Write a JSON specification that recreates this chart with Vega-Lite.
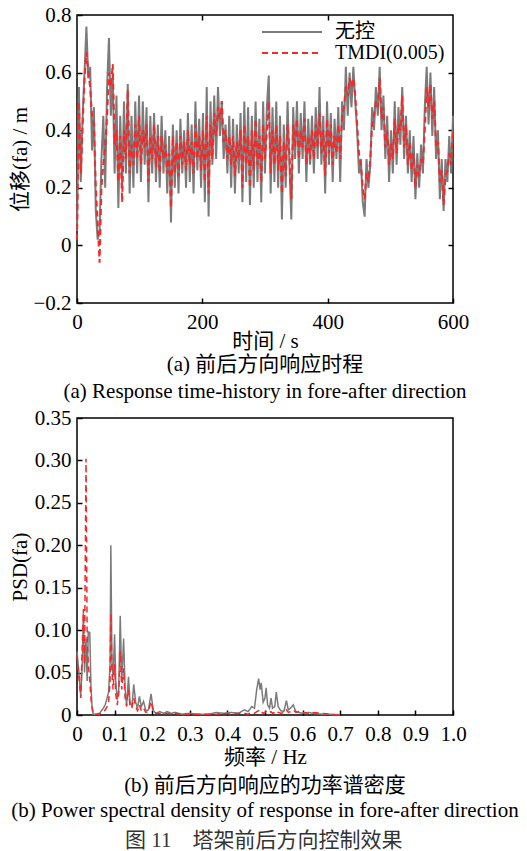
{
  "$schema": "https://vega.github.io/schema/vega-lite/v6.json",
  "background": "white",
  "padding": {"left": 8, "top": 3, "right": 10, "bottom": 0},
  "spacing": 3,
  "config": {
    "font": "Liberation Serif, Noto Sans CJK SC",
    "view": {"stroke": "black", "strokeWidth": 1.5},
    "style": {"guide-label": {"font": "Liberation Serif, Noto Sans CJK SC"}, "guide-title": {"font": "Liberation Serif, Noto Sans CJK SC"}},
    "axis": {"domain": false, "grid": false, "tickColor": "black", "tickWidth": 1.5, "tickSize": -5, "labelFontSize": 21, "labelColor": "black", "labelOverlap": false, "labelFlush": false, "labelFont": "Liberation Serif, Noto Sans CJK SC", "titleFontSize": 21, "titleFontWeight": "normal", "titleColor": "black", "titleFont": "Liberation Serif, Noto Sans CJK SC"},
    "axisY": {"minExtent": 44, "maxExtent": 44, "titlePadding": 3, "labelPadding": 11},
    "axisX": {"titlePadding": -2, "labelPadding": 13, "labelFlush": false},
    "legend": {"titleFontSize": 0, "labelFont": "Liberation Serif, Noto Sans CJK SC"}
  },
  "title": {"text": "图 11　塔架前后方向控制效果", "orient": "bottom", "anchor": "middle", "fontSize": 21, "fontWeight": "normal", "color": "#333333", "offset": 8, "font": "Liberation Serif, Noto Sans CJK SC"},
  "datasets": {
    "th": [
      {"t":0,"u":0.05,"c":0.02},{"t":3,"u":0.55,"c":0.50},{"t":6,"u":0.22,"c":0.25},{"t":9,"u":0.45,"c":0.42},{"t":12,"u":0.60,"c":0.58},{"t":15,"u":0.76,"c":0.67},{"t":18,"u":0.58,"c":0.60},{"t":21,"u":0.62,"c":0.55},{"t":24,"u":0.33,"c":0.45},{"t":27,"u":0.48,"c":0.42},
      {"t":30,"u":0.12,"c":0.20},{"t":33,"u":0.02,"c":0.08},{"t":36,"u":0.05,"c":-0.06},{"t":39,"u":0.30,"c":0.20},{"t":42,"u":0.45,"c":0.28},{"t":45,"u":0.20,"c":0.35},{"t":48,"u":0.55,"c":0.45},{"t":51,"u":0.72,"c":0.60},{"t":54,"u":0.45,"c":0.55},{"t":57,"u":0.60,"c":0.63},
      {"t":60,"u":0.25,"c":0.35},{"t":63,"u":0.52,"c":0.40},{"t":66,"u":0.13,"c":0.22},{"t":69,"u":0.45,"c":0.38},{"t":72,"u":0.20,"c":0.15},{"t":75,"u":0.50,"c":0.40},{"t":78,"u":0.25,"c":0.30},{"t":81,"u":0.56,"c":0.54},{"t":84,"u":0.18,"c":0.25},{"t":87,"u":0.45,"c":0.35},
      {"t":90,"u":0.20,"c":0.28},{"t":93,"u":0.50,"c":0.42},{"t":96,"u":0.25,"c":0.30},{"t":99,"u":0.52,"c":0.45},{"t":102,"u":0.22,"c":0.28},{"t":105,"u":0.50,"c":0.40},{"t":108,"u":0.28,"c":0.34},{"t":111,"u":0.48,"c":0.42},{"t":114,"u":0.15,"c":0.22},{"t":117,"u":0.45,"c":0.38},
      {"t":120,"u":0.25,"c":0.30},{"t":123,"u":0.46,"c":0.42},{"t":126,"u":0.22,"c":0.27},{"t":129,"u":0.42,"c":0.38},{"t":132,"u":0.20,"c":0.25},{"t":135,"u":0.45,"c":0.38},{"t":138,"u":0.25,"c":0.30},{"t":141,"u":0.40,"c":0.35},{"t":144,"u":0.18,"c":0.25},{"t":147,"u":0.38,"c":0.32},
      {"t":150,"u":0.08,"c":0.13},{"t":153,"u":0.42,"c":0.38},{"t":156,"u":0.20,"c":0.25},{"t":159,"u":0.40,"c":0.36},{"t":162,"u":0.18,"c":0.24},{"t":165,"u":0.44,"c":0.38},{"t":168,"u":0.25,"c":0.28},{"t":171,"u":0.40,"c":0.36},{"t":174,"u":0.20,"c":0.26},{"t":177,"u":0.46,"c":0.40},
      {"t":180,"u":0.22,"c":0.28},{"t":183,"u":0.42,"c":0.36},{"t":186,"u":0.18,"c":0.25},{"t":189,"u":0.50,"c":0.42},{"t":192,"u":0.26,"c":0.30},{"t":195,"u":0.44,"c":0.38},{"t":198,"u":0.20,"c":0.26},{"t":201,"u":0.46,"c":0.40},{"t":204,"u":0.15,"c":0.22},{"t":207,"u":0.55,"c":0.45},
      {"t":210,"u":0.10,"c":0.18},{"t":213,"u":0.50,"c":0.42},{"t":216,"u":0.28,"c":0.30},{"t":219,"u":0.52,"c":0.46},{"t":222,"u":0.30,"c":0.38},{"t":225,"u":0.55,"c":0.48},{"t":228,"u":0.38,"c":0.44},{"t":231,"u":0.50,"c":0.50},{"t":234,"u":0.30,"c":0.36},{"t":237,"u":0.42,"c":0.40},
      {"t":240,"u":0.25,"c":0.30},{"t":243,"u":0.45,"c":0.38},{"t":246,"u":0.20,"c":0.28},{"t":249,"u":0.44,"c":0.38},{"t":252,"u":0.18,"c":0.24},{"t":255,"u":0.42,"c":0.36},{"t":258,"u":0.25,"c":0.30},{"t":261,"u":0.46,"c":0.40},{"t":264,"u":0.15,"c":0.20},{"t":267,"u":0.50,"c":0.42},
      {"t":270,"u":0.22,"c":0.28},{"t":273,"u":0.48,"c":0.38},{"t":276,"u":0.14,"c":0.20},{"t":279,"u":0.45,"c":0.40},{"t":282,"u":0.20,"c":0.26},{"t":285,"u":0.50,"c":0.44},{"t":288,"u":0.22,"c":0.28},{"t":291,"u":0.44,"c":0.38},{"t":294,"u":0.15,"c":0.22},{"t":297,"u":0.50,"c":0.42},
      {"t":300,"u":0.25,"c":0.30},{"t":303,"u":0.48,"c":0.40},{"t":306,"u":0.59,"c":0.50},{"t":309,"u":0.18,"c":0.25},{"t":312,"u":0.48,"c":0.40},{"t":315,"u":0.22,"c":0.28},{"t":318,"u":0.50,"c":0.42},{"t":321,"u":0.20,"c":0.26},{"t":324,"u":0.45,"c":0.38},{"t":327,"u":0.09,"c":0.18},
      {"t":330,"u":0.42,"c":0.36},{"t":333,"u":0.20,"c":0.24},{"t":336,"u":0.50,"c":0.42},{"t":339,"u":0.28,"c":0.32},{"t":342,"u":0.09,"c":0.16},{"t":345,"u":0.48,"c":0.42},{"t":348,"u":0.30,"c":0.34},{"t":351,"u":0.50,"c":0.44},{"t":354,"u":0.25,"c":0.30},{"t":357,"u":0.46,"c":0.40},
      {"t":360,"u":0.30,"c":0.34},{"t":363,"u":0.50,"c":0.44},{"t":366,"u":0.22,"c":0.28},{"t":369,"u":0.44,"c":0.38},{"t":372,"u":0.28,"c":0.30},{"t":375,"u":0.45,"c":0.40},{"t":378,"u":0.25,"c":0.30},{"t":381,"u":0.48,"c":0.42},{"t":384,"u":0.30,"c":0.34},{"t":387,"u":0.55,"c":0.46},
      {"t":390,"u":0.28,"c":0.32},{"t":393,"u":0.45,"c":0.40},{"t":396,"u":0.18,"c":0.24},{"t":399,"u":0.50,"c":0.44},{"t":402,"u":0.28,"c":0.32},{"t":405,"u":0.46,"c":0.42},{"t":408,"u":0.22,"c":0.28},{"t":411,"u":0.44,"c":0.38},{"t":414,"u":0.30,"c":0.32},{"t":417,"u":0.48,"c":0.42},
      {"t":420,"u":0.22,"c":0.30},{"t":423,"u":0.50,"c":0.45},{"t":426,"u":0.40,"c":0.48},{"t":429,"u":0.62,"c":0.55},{"t":432,"u":0.45,"c":0.52},{"t":435,"u":0.60,"c":0.58},{"t":438,"u":0.48,"c":0.55},{"t":441,"u":0.62,"c":0.58},{"t":444,"u":0.50,"c":0.52},{"t":447,"u":0.40,"c":0.42},
      {"t":450,"u":0.25,"c":0.32},{"t":453,"u":0.30,"c":0.28},{"t":456,"u":0.15,"c":0.20},{"t":459,"u":0.10,"c":0.16},{"t":462,"u":0.30,"c":0.25},{"t":465,"u":0.20,"c":0.22},{"t":468,"u":0.28,"c":0.30},{"t":471,"u":0.48,"c":0.42},{"t":474,"u":0.40,"c":0.45},{"t":477,"u":0.55,"c":0.50},
      {"t":480,"u":0.45,"c":0.48},{"t":483,"u":0.62,"c":0.58},{"t":486,"u":0.40,"c":0.44},{"t":489,"u":0.52,"c":0.48},{"t":492,"u":0.30,"c":0.34},{"t":495,"u":0.45,"c":0.40},{"t":498,"u":0.22,"c":0.28},{"t":501,"u":0.40,"c":0.36},{"t":504,"u":0.25,"c":0.30},{"t":507,"u":0.50,"c":0.44},
      {"t":510,"u":0.28,"c":0.32},{"t":513,"u":0.48,"c":0.42},{"t":516,"u":0.35,"c":0.40},{"t":519,"u":0.55,"c":0.52},{"t":522,"u":0.30,"c":0.34},{"t":525,"u":0.45,"c":0.42},{"t":528,"u":0.25,"c":0.28},{"t":531,"u":0.40,"c":0.36},{"t":534,"u":0.22,"c":0.26},{"t":537,"u":0.38,"c":0.32},
      {"t":540,"u":0.16,"c":0.20},{"t":543,"u":0.32,"c":0.28},{"t":546,"u":0.20,"c":0.24},{"t":549,"u":0.35,"c":0.30},{"t":552,"u":0.25,"c":0.28},{"t":555,"u":0.48,"c":0.40},{"t":558,"u":0.62,"c":0.55},{"t":561,"u":0.42,"c":0.48},{"t":564,"u":0.60,"c":0.56},{"t":567,"u":0.38,"c":0.44},
      {"t":570,"u":0.55,"c":0.50},{"t":573,"u":0.30,"c":0.34},{"t":576,"u":0.40,"c":0.36},{"t":579,"u":0.16,"c":0.22},{"t":582,"u":0.30,"c":0.26},{"t":585,"u":0.12,"c":0.14},{"t":588,"u":0.30,"c":0.24},{"t":591,"u":0.22,"c":0.26},{"t":594,"u":0.38,"c":0.32},{"t":597,"u":0.25,"c":0.28},
      {"t":600,"u":0.45,"c":0.40}
    ],
    "psd": [
      {"f":0.000,"u":0.075,"c":0.070},{"f":0.005,"u":0.050,"c":0.045},{"f":0.010,"u":0.022,"c":0.020},{"f":0.014,"u":0.060,"c":0.080},{"f":0.017,"u":0.120,"c":0.125},{"f":0.020,"u":0.050,"c":0.060},{"f":0.024,"u":0.090,"c":0.302},{"f":0.027,"u":0.040,"c":0.090},{"f":0.030,"u":0.098,"c":0.060},{"f":0.034,"u":0.097,"c":0.040},
      {"f":0.037,"u":0.035,"c":0.020},{"f":0.040,"u":0.010,"c":0.008},{"f":0.043,"u":0.001,"c":0.001},{"f":0.050,"u":0.001,"c":0.001},{"f":0.060,"u":0.002,"c":0.001},{"f":0.070,"u":0.008,"c":0.004},{"f":0.075,"u":0.012,"c":0.006},{"f":0.080,"u":0.020,"c":0.010},{"f":0.084,"u":0.027,"c":0.015},{"f":0.088,"u":0.060,"c":0.040},
      {"f":0.090,"u":0.200,"c":0.120},{"f":0.093,"u":0.060,"c":0.050},{"f":0.096,"u":0.045,"c":0.030},{"f":0.100,"u":0.095,"c":0.060},{"f":0.103,"u":0.040,"c":0.025},{"f":0.107,"u":0.018,"c":0.012},{"f":0.111,"u":0.030,"c":0.025},{"f":0.115,"u":0.117,"c":0.075},{"f":0.119,"u":0.040,"c":0.030},{"f":0.124,"u":0.090,"c":0.055},
      {"f":0.128,"u":0.030,"c":0.020},{"f":0.132,"u":0.012,"c":0.010},{"f":0.137,"u":0.045,"c":0.030},{"f":0.141,"u":0.015,"c":0.010},{"f":0.146,"u":0.010,"c":0.008},{"f":0.151,"u":0.036,"c":0.020},{"f":0.156,"u":0.015,"c":0.010},{"f":0.161,"u":0.008,"c":0.005},{"f":0.166,"u":0.022,"c":0.012},{"f":0.171,"u":0.010,"c":0.005},
      {"f":0.177,"u":0.016,"c":0.008},{"f":0.183,"u":0.005,"c":0.003},{"f":0.190,"u":0.006,"c":0.004},{"f":0.197,"u":0.025,"c":0.016},{"f":0.203,"u":0.005,"c":0.004},{"f":0.210,"u":0.002,"c":0.002},{"f":0.220,"u":0.004,"c":0.002},{"f":0.230,"u":0.002,"c":0.001},{"f":0.240,"u":0.004,"c":0.002},{"f":0.250,"u":0.002,"c":0.001},
      {"f":0.260,"u":0.003,"c":0.002},{"f":0.280,"u":0.001,"c":0.001},{"f":0.300,"u":0.002,"c":0.001},{"f":0.320,"u":0.001,"c":0.001},{"f":0.350,"u":0.001,"c":0.001},{"f":0.370,"u":0.003,"c":0.001},{"f":0.390,"u":0.002,"c":0.002},{"f":0.410,"u":0.003,"c":0.001},{"f":0.430,"u":0.002,"c":0.002},{"f":0.445,"u":0.006,"c":0.002},
      {"f":0.455,"u":0.004,"c":0.001},{"f":0.465,"u":0.010,"c":0.003},{"f":0.472,"u":0.008,"c":0.002},{"f":0.478,"u":0.030,"c":0.004},{"f":0.483,"u":0.043,"c":0.005},{"f":0.487,"u":0.030,"c":0.003},{"f":0.490,"u":0.038,"c":0.004},{"f":0.495,"u":0.015,"c":0.002},{"f":0.500,"u":0.020,"c":0.003},{"f":0.503,"u":0.032,"c":0.004},
      {"f":0.507,"u":0.012,"c":0.002},{"f":0.512,"u":0.008,"c":0.003},{"f":0.516,"u":0.020,"c":0.004},{"f":0.520,"u":0.008,"c":0.002},{"f":0.526,"u":0.010,"c":0.003},{"f":0.530,"u":0.027,"c":0.005},{"f":0.535,"u":0.010,"c":0.003},{"f":0.542,"u":0.005,"c":0.002},{"f":0.550,"u":0.004,"c":0.003},{"f":0.557,"u":0.017,"c":0.006},
      {"f":0.562,"u":0.006,"c":0.003},{"f":0.568,"u":0.008,"c":0.004},{"f":0.575,"u":0.012,"c":0.006},{"f":0.582,"u":0.004,"c":0.003},{"f":0.590,"u":0.003,"c":0.004},{"f":0.600,"u":0.002,"c":0.003},{"f":0.615,"u":0.003,"c":0.002},{"f":0.630,"u":0.002,"c":0.003},{"f":0.650,"u":0.001,"c":0.002},{"f":0.670,"u":0.001,"c":0.001},
      {"f":0.700,"u":0.000,"c":0.000}
    ]
  },
  "vconcat": [
    {
      "width": 376,
      "height": 288,
      "title": {"text": ["(a) 前后方向响应时程", "(a) Response time-history in fore-after direction"], "orient": "bottom", "frame": "group", "anchor": "middle", "fontSize": 21, "fontWeight": "normal", "lineHeight": 27, "offset": 3, "color": "black", "font": "Liberation Serif, Noto Sans CJK SC"},
      "data": {"name": "th"},
      "transform": [{"fold": ["u", "c"], "as": ["k", "v"]}],
      "layer": [
        {
          "transform": [{"filter": "datum.k == 'u'"}],
          "mark": {"type": "line", "strokeWidth": 2},
          "encoding": {
            "x": {"field": "t", "type": "quantitative", "scale": {"domain": [0, 600], "nice": false}, "axis": {"orient": "bottom", "values": [0, 200, 400, 600], "labelOverlap": false, "labelFlush": false, "title": "时间 / s", "labelFont": "Liberation Serif", "titleFont": "Liberation Serif, Noto Sans CJK SC"}},
            "y": {"field": "v", "type": "quantitative", "scale": {"domain": [-0.2, 0.8], "nice": false}, "axis": {"orient": "left", "values": [-0.2, 0, 0.2, 0.4, 0.6, 0.8], "labelOverlap": false, "labelExpr": "datum.value == 0 ? '0' : format(datum.value, '.1f')", "title": "位移(fa) / m", "labelFont": "Liberation Serif", "titleFont": "Liberation Serif, Noto Sans CJK SC"}},
            "color": {"field": "k", "type": "nominal", "scale": {"domain": ["u", "c"], "range": ["#7b7b7b", "#f22a2a"]}, "legend": {"orient": "none", "legendX": 204, "legendY": 6, "title": null, "symbolType": "M-3,0H3", "symbolSize": 400, "symbolStrokeWidth": 2, "labelFontSize": 20, "labelColor": "black", "labelOffset": 32, "rowPadding": 0, "labelFont": "Liberation Serif, Noto Sans CJK SC", "labelExpr": "datum.label == 'u' ? '无控' : 'TMDI(0.005)'"}},
            "strokeDash": {"field": "k", "type": "nominal", "scale": {"domain": ["u", "c"], "range": [[1, 0], [6, 4]]}, "legend": {"orient": "none", "legendX": 204, "legendY": 6, "title": null, "symbolType": "M-3,0H3", "symbolSize": 400, "symbolStrokeWidth": 2, "labelFontSize": 20, "labelColor": "black", "labelOffset": 32, "rowPadding": 0, "labelFont": "Liberation Serif, Noto Sans CJK SC", "labelExpr": "datum.label == 'u' ? '无控' : 'TMDI(0.005)'"}}
          }
        },
        {
          "transform": [{"filter": "datum.k == 'c'"}],
          "mark": {"type": "line", "strokeWidth": 2},
          "encoding": {
            "x": {"field": "t", "type": "quantitative", "axis": null},
            "y": {"field": "v", "type": "quantitative", "axis": null},
            "color": {"field": "k", "type": "nominal"},
            "strokeDash": {"field": "k", "type": "nominal"}
          }
        },
        {
          "transform": [{"filter": "datum.k == 'u'"}],
          "mark": {"type": "line", "opacity": 0},
          "encoding": {
            "x": {"field": "t", "type": "quantitative", "axis": {"orient": "top", "values": [200, 400], "labels": false, "title": null}},
            "y": {"field": "v", "type": "quantitative", "axis": {"orient": "right", "values": [0, 0.2, 0.4, 0.6], "labels": false, "title": null, "minExtent": 0, "maxExtent": 0}}
          }
        }
      ]
    },
    {
      "width": 376,
      "height": 297,
      "title": {"text": ["(b) 前后方向响应的功率谱密度", "(b) Power spectral density of response in fore-after direction"], "orient": "bottom", "frame": "group", "anchor": "middle", "fontSize": 21, "fontWeight": "normal", "lineHeight": 25, "offset": 8, "color": "black", "font": "Liberation Serif, Noto Sans CJK SC"},
      "data": {"name": "psd"},
      "transform": [{"fold": ["u", "c"], "as": ["k", "v"]}],
      "layer": [
        {
          "transform": [{"filter": "datum.k == 'u'"}],
          "mark": {"type": "line", "strokeWidth": 1.5},
          "encoding": {
            "x": {"field": "f", "type": "quantitative", "scale": {"domain": [0, 1], "nice": false}, "axis": {"orient": "bottom", "values": [0, 0.1, 0.2, 0.3, 0.4, 0.5, 0.6, 0.7, 0.8, 0.9, 1.0], "labelOverlap": false, "labelFlush": false, "titlePadding": 2, "labelExpr": "datum.value == 0 ? '0' : format(datum.value, '.1f')", "title": "频率 / Hz", "labelFont": "Liberation Serif", "titleFont": "Liberation Serif, Noto Sans CJK SC"}},
            "y": {"field": "v", "type": "quantitative", "scale": {"domain": [0, 0.35], "nice": false}, "axis": {"orient": "left", "values": [0, 0.05, 0.1, 0.15, 0.2, 0.25, 0.3, 0.35], "labelOverlap": false, "labelExpr": "datum.value == 0 ? '0' : format(datum.value, '.2f')", "title": "PSD(fa)", "labelFont": "Liberation Serif", "titleFont": "Liberation Serif"}},
            "color": {"field": "k", "type": "nominal", "scale": {"domain": ["u", "c"], "range": ["#7b7b7b", "#f22a2a"]}, "legend": {"orient": "none", "legendX": 204, "legendY": 15, "title": null, "symbolType": "M-3,0H3", "symbolSize": 400, "symbolStrokeWidth": 2, "labelFontSize": 20, "labelColor": "black", "labelOffset": 32, "rowPadding": 0, "labelFont": "Liberation Serif, Noto Sans CJK SC", "labelExpr": "datum.label == 'u' ? '无控' : 'TMDI(0.005)'"}},
            "strokeDash": {"field": "k", "type": "nominal", "scale": {"domain": ["u", "c"], "range": [[1, 0], [5, 3]]}, "legend": {"orient": "none", "legendX": 204, "legendY": 15, "title": null, "symbolType": "M-3,0H3", "symbolSize": 400, "symbolStrokeWidth": 2, "labelFontSize": 20, "labelColor": "black", "labelOffset": 32, "rowPadding": 0, "labelFont": "Liberation Serif, Noto Sans CJK SC", "labelExpr": "datum.label == 'u' ? '无控' : 'TMDI(0.005)'"}}
          }
        },
        {
          "transform": [{"filter": "datum.k == 'c'"}],
          "mark": {"type": "line", "strokeWidth": 1.5},
          "encoding": {
            "x": {"field": "f", "type": "quantitative", "axis": {"orient": "bottom", "values": [0, 0.1, 0.2, 0.3, 0.4, 0.5, 0.6, 0.7, 0.8, 0.9, 1.0], "labelOverlap": false, "labelFlush": false, "titlePadding": 2, "labelExpr": "datum.value == 0 ? '0' : format(datum.value, '.1f')", "title": "频率 / Hz", "labelFont": "Liberation Serif", "titleFont": "Liberation Serif, Noto Sans CJK SC"}},
            "y": {"field": "v", "type": "quantitative", "axis": {"orient": "left", "values": [0, 0.05, 0.1, 0.15, 0.2, 0.25, 0.3, 0.35], "labelOverlap": false, "labelExpr": "datum.value == 0 ? '0' : format(datum.value, '.2f')", "title": "PSD(fa)", "labelFont": "Liberation Serif", "titleFont": "Liberation Serif"}},
            "color": {"field": "k", "type": "nominal"},
            "strokeDash": {"field": "k", "type": "nominal"}
          }
        }
      ]
    }
  ]
}
